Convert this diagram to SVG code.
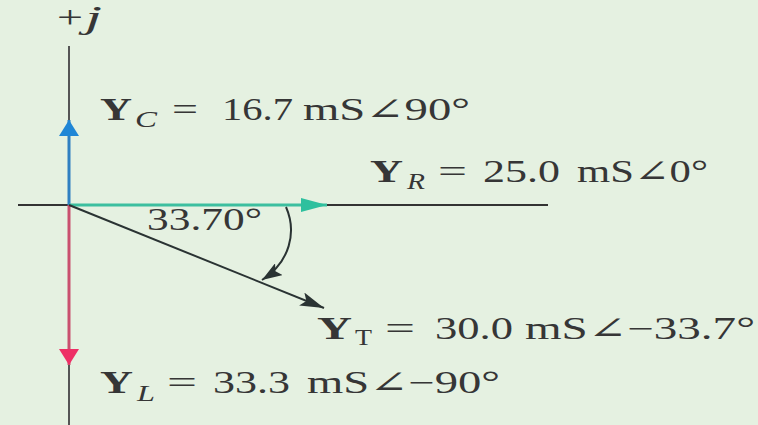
<svg xmlns="http://www.w3.org/2000/svg" width="758" height="425" viewBox="0 0 758 425">
<defs>
<style>
text{font-family:"Liberation Serif","DejaVu Serif",serif;fill:#363636;font-size:31px}
.b{font-weight:bold}
.s{font-style:italic;font-size:23px}
.u{font-size:23px}
</style>
<marker id="mb" viewBox="0 0 16 20" refX="16" refY="10" markerWidth="16" markerHeight="20" markerUnits="userSpaceOnUse" orient="auto"><path d="M0,0L16,10L0,20z" fill="#1f86d6"/></marker>
<marker id="mt" viewBox="0 0 26 14" refX="26" refY="7" markerWidth="26" markerHeight="14" markerUnits="userSpaceOnUse" orient="auto"><path d="M0,0L26,7L0,14z" fill="#2ec09e"/></marker>
<marker id="mp" viewBox="0 0 16 20" refX="16" refY="10" markerWidth="16" markerHeight="20" markerUnits="userSpaceOnUse" orient="auto"><path d="M0,0L16,10L0,20z" fill="#ee2f66"/></marker>
<marker id="md" viewBox="0 0 24 14" refX="24" refY="7" markerWidth="24" markerHeight="14" markerUnits="userSpaceOnUse" orient="auto"><path d="M0,0L24,7L0,14L5,7z" fill="#2a3333"/></marker>
<marker id="ma" viewBox="0 0 20 14" refX="20" refY="7" markerWidth="20" markerHeight="14" markerUnits="userSpaceOnUse" orient="auto"><path d="M0,0L20,7L0,14L4,7z" fill="#2a3333"/></marker>
</defs>
<rect width="758" height="425" fill="#e5f1e1"/>
<g id="axes">
<line x1="69" y1="46" x2="69" y2="425" stroke="#555" stroke-width="2"/>
<line x1="18" y1="205" x2="548" y2="205" stroke="#333" stroke-width="2"/>
<text x="57" y="28" textLength="26" lengthAdjust="spacingAndGlyphs" font-size="28">+</text>
<text x="85" y="28" textLength="17" lengthAdjust="spacingAndGlyphs" font-size="28" font-style="italic">j</text>
</g>
<g id="connectors">
<line x1="69" y1="205" x2="69" y2="120" stroke="#2f7fc1" stroke-width="3" marker-end="url(#mb)"/>
<line x1="69" y1="205" x2="327" y2="205" stroke="#3cbf9f" stroke-width="3" marker-end="url(#mt)"/>
<line x1="69" y1="205" x2="69" y2="365" stroke="#c9506f" stroke-width="3" marker-end="url(#mp)"/>
<line x1="69" y1="205" x2="324" y2="308" stroke="#2a3333" stroke-width="2" marker-end="url(#md)"/>
<path d="M286,207 C297,232 290,262 262,280" fill="none" stroke="#2a3333" stroke-width="2" marker-end="url(#ma)"/>
</g>
<g id="YC">
<text class="b" x="100" y="120" textLength="32" lengthAdjust="spacingAndGlyphs">Y</text>
<text class="s" x="135" y="127" textLength="22" lengthAdjust="spacingAndGlyphs">C</text>
<text x="172" y="120" textLength="26" lengthAdjust="spacingAndGlyphs">=</text>
<text x="222" y="120" textLength="71" lengthAdjust="spacingAndGlyphs">16.7</text>
<text x="303" y="120" textLength="167" lengthAdjust="spacingAndGlyphs">mS∠90°</text>
</g>
<g id="YR">
<text class="b" x="370" y="182" textLength="33" lengthAdjust="spacingAndGlyphs">Y</text>
<text class="s" x="407" y="189" textLength="18" lengthAdjust="spacingAndGlyphs">R</text>
<text x="438" y="182" textLength="29" lengthAdjust="spacingAndGlyphs">=</text>
<text x="483" y="182" textLength="77" lengthAdjust="spacingAndGlyphs">25.0</text>
<text x="577" y="182" textLength="131" lengthAdjust="spacingAndGlyphs">mS∠0°</text>
</g>
<g id="angle">
<text x="147" y="230" font-size="27" textLength="115" lengthAdjust="spacingAndGlyphs">33.70°</text>
</g>
<g id="YT">
<text class="b" x="317" y="339" textLength="35" lengthAdjust="spacingAndGlyphs">Y</text>
<text class="u" x="355" y="345" textLength="17" lengthAdjust="spacingAndGlyphs">T</text>
<text x="385" y="339" textLength="30" lengthAdjust="spacingAndGlyphs">=</text>
<text x="435" y="339" textLength="78" lengthAdjust="spacingAndGlyphs">30.0</text>
<text x="525" y="339" textLength="230" lengthAdjust="spacingAndGlyphs">mS∠−33.7°</text>
</g>
<g id="YL">
<text class="b" x="100" y="393" textLength="33" lengthAdjust="spacingAndGlyphs">Y</text>
<text class="s" x="137" y="401" textLength="18" lengthAdjust="spacingAndGlyphs">L</text>
<text x="167" y="393" textLength="30" lengthAdjust="spacingAndGlyphs">=</text>
<text x="213" y="393" textLength="77" lengthAdjust="spacingAndGlyphs">33.3</text>
<text x="307" y="393" textLength="193" lengthAdjust="spacingAndGlyphs">mS∠−90°</text>
</g>
</svg>
